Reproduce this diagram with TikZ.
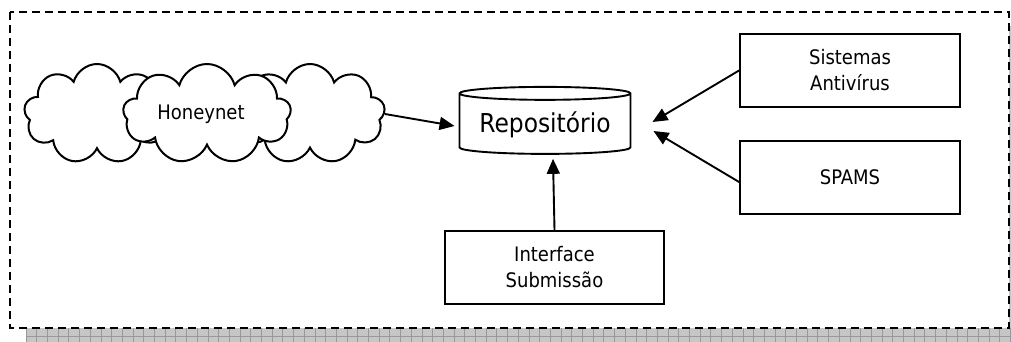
\documentclass[tikz,border=0pt]{standalone}
\usepackage{fontspec}
\setmainfont{DejaVu Sans Condensed}
\usetikzlibrary{arrows.meta,shapes.symbols,shapes.geometric,calc,positioning}

\tikzset{
  box/.style={draw, line width=1.9pt, minimum width=220pt, minimum height=73pt,
    align=center, font=\fontsize{20}{26}\selectfont},
  puff/.style={cloud, cloud puffs=9, cloud puff arc=150, cloud ignores aspect, draw, fill=white,
    line width=2pt, minimum height=100pt},
  link/.style={line width=1.9pt, -{Triangle[length=15pt,width=13pt]}},
}

\begin{document}
\begin{tikzpicture}[x=1pt,y=-1pt]
\useasboundingbox (0,0) rectangle (1011,342);
% shadow under the frame
\fill[gray!45] (26,26) rectangle (1011,342);
\foreach \x in {26,36.7,...,1011}
  \draw[gray!80, line width=0.8pt] (\x,328) -- (\x,342);
\draw[gray!80, line width=0.8pt] (26,336) -- (1011,336);
\draw[line width=2pt, dash pattern=on 8pt off 5pt, fill=white] (10,12) rectangle (1009,328);

% honeynet clouds
\node[puff, minimum width=146pt] (cloudL) at (97,114) {};
\node[puff, minimum width=150pt] (cloudR) at (310,114) {};
\node[puff, minimum width=168pt, font=\fontsize{20}{24}\selectfont] (honeynet) at (207,114) {Honeynet\hspace*{12pt}};

% repository
\node[cylinder, shape border rotate=90, aspect=0.094, draw, line width=1.9pt,
  minimum width=171pt, minimum height=67pt, font=\fontsize{26}{30}\selectfont] (repo) at (545,125) {Repositório};

\node[box] (antivirus) at (850,70.5) {Sistemas\\Antivírus};
\node[box] (spams) at (850,177.5) {SPAMS};
\node[box, minimum width=219pt] (iface) at (554.5,267.5) {Interface\\Submissão};

\draw[link] (cloudR.east) -- ($(repo.west)+(-4,1)$);
\draw[link] (antivirus.west) -- ($(repo.east)+(21,-3)$);
\draw[link] ($(spams.west)+(0,4.5)$) -- ($(repo.east)+(22,6)$);
\draw[link] (iface.north) -- ($(repo.south)+(8,4)$);
\end{tikzpicture}
\end{document}
